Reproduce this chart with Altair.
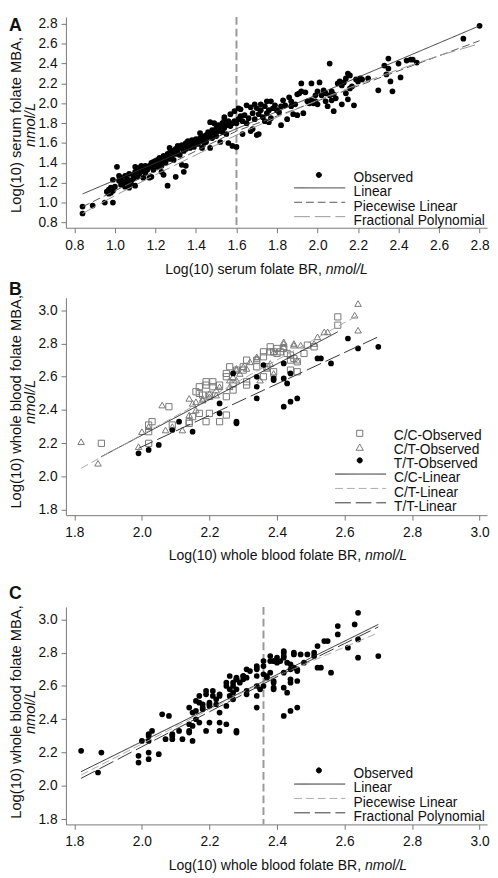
import altair as alt
import pandas as pd

FONT = "Liberation Sans"

# ---------------- Panel A : serum folate (observed points) ----------------
a_obs_low = [
    (0.84, 0.96), (0.84, 0.89), (0.89, 0.97), (0.95, 1.00), (0.99, 1.00),
    (0.96, 1.11), (0.97, 1.09), (0.97, 1.13), (0.98, 1.10), (0.98, 1.15), (0.99, 1.12), (0.99, 1.23), (1.00, 1.16),
    (1.01, 1.36), (1.02, 1.27), (1.02, 1.22), (1.03, 1.18), (1.03, 1.25), (1.04, 1.21), (1.05, 1.16), (1.05, 1.27),
    (1.06, 1.19), (1.06, 1.24), (1.07, 1.15), (1.07, 1.29), (1.08, 1.22), (1.08, 1.18), (1.09, 1.28), (1.09, 1.24),
    (1.10, 1.17), (1.10, 1.31), (1.10, 1.36), (1.11, 1.33), (1.11, 1.26), (1.12, 1.29), (1.12, 1.35), (1.13, 1.31),
    (1.13, 1.37), (1.14, 1.25), (1.14, 1.34), (1.15, 1.37), (1.15, 1.30), (1.16, 1.33), (1.17, 1.37), (1.17, 1.25),
    (1.18, 1.36), (1.18, 1.40), (1.18, 1.26), (1.19, 1.33), (1.19, 1.41), (1.20, 1.38), (1.20, 1.42),
]
a_obs_mid = [
    (1.21, 1.36), (1.21, 1.43), (1.22, 1.39), (1.22, 1.45), (1.23, 1.41), (1.23, 1.37), (1.23, 1.31), (1.24, 1.43),
    (1.24, 1.47), (1.24, 1.28), (1.25, 1.40), (1.25, 1.45), (1.26, 1.17), (1.26, 1.49), (1.27, 1.44), (1.27, 1.50),
    (1.27, 1.55), (1.28, 1.47), (1.28, 1.52), (1.29, 1.43), (1.29, 1.50), (1.30, 1.49), (1.30, 1.54), (1.30, 1.26),
    (1.31, 1.52), (1.31, 1.57), (1.32, 1.48), (1.32, 1.55), (1.33, 1.58), (1.33, 1.38), (1.34, 1.52), (1.34, 1.56),
    (1.34, 1.31), (1.35, 1.60), (1.35, 1.37), (1.35, 1.54), (1.36, 1.58), (1.36, 1.62), (1.37, 1.55), (1.37, 1.60),
    (1.38, 1.58), (1.38, 1.63), (1.39, 1.61), (1.39, 1.56), (1.40, 1.60), (1.40, 1.64), (1.41, 1.59), (1.41, 1.62),
    (1.42, 1.65), (1.42, 1.70), (1.43, 1.62), (1.43, 1.67), (1.43, 1.55), (1.44, 1.60), (1.44, 1.64), (1.45, 1.68),
    (1.45, 1.61), (1.46, 1.66), (1.46, 1.71), (1.47, 1.55), (1.47, 1.69), (1.47, 1.81), (1.48, 1.73), (1.48, 1.65),
    (1.49, 1.80), (1.49, 1.70), (1.50, 1.75), (1.50, 1.67), (1.51, 1.72), (1.51, 1.78), (1.52, 1.61), (1.52, 1.76),
    (1.53, 1.80), (1.53, 1.71), (1.54, 1.83), (1.54, 1.86), (1.54, 1.75), (1.55, 1.78), (1.55, 1.69), (1.56, 1.82),
    (1.56, 1.60), (1.57, 1.77), (1.57, 1.89), (1.58, 1.80), (1.58, 1.57), (1.59, 1.82), (1.59, 1.92), (1.60, 1.56),
    (1.60, 1.80),
]
a_obs_high = [
    (1.61, 1.84), (1.61, 1.95), (1.62, 1.87), (1.62, 1.94), (1.63, 1.82), (1.63, 1.69), (1.64, 1.88), (1.65, 1.80),
    (1.65, 1.98), (1.66, 1.85), (1.67, 1.96), (1.67, 1.72), (1.68, 1.90), (1.68, 1.74), (1.69, 1.84), (1.69, 1.99),
    (1.70, 1.95), (1.70, 1.68), (1.71, 1.89), (1.71, 1.69), (1.72, 1.93), (1.72, 1.99), (1.73, 1.86), (1.74, 1.82),
    (1.74, 1.97), (1.75, 2.02), (1.75, 1.90), (1.76, 1.93), (1.76, 1.81), (1.77, 2.02), (1.77, 1.85), (1.78, 1.95),
    (1.79, 1.98), (1.80, 1.93), (1.81, 1.91), (1.82, 1.78), (1.82, 1.97), (1.83, 2.03), (1.84, 1.98), (1.85, 1.84),
    (1.86, 2.06), (1.87, 1.97), (1.87, 2.02), (1.88, 1.89), (1.89, 1.99), (1.90, 1.88), (1.90, 2.09), (1.91, 2.10),
    (1.92, 2.20), (1.92, 2.12), (1.93, 1.90), (1.94, 2.11), (1.95, 2.02), (1.96, 2.00), (1.97, 2.03), (1.97, 2.20),
    (1.98, 2.00), (1.99, 2.02), (1.99, 2.08), (2.00, 2.12), (2.00, 1.99), (2.01, 2.21), (2.02, 2.08), (2.03, 2.13),
    (2.04, 2.10), (2.04, 2.02), (2.05, 1.97), (2.06, 2.40), (2.06, 2.08), (2.07, 2.12), (2.07, 2.03), (2.08, 2.09),
    (2.08, 1.92), (2.09, 2.05), (2.10, 2.20), (2.11, 2.22), (2.12, 2.18), (2.12, 1.99), (2.13, 2.21), (2.14, 2.25),
    (2.14, 2.10), (2.15, 2.30), (2.15, 2.04), (2.16, 2.28), (2.16, 2.15), (2.17, 2.17), (2.18, 1.98), (2.19, 2.24),
    (2.20, 2.22), (2.21, 2.25), (2.22, 2.24), (2.25, 2.25), (2.30, 2.13), (2.33, 2.38), (2.34, 2.29), (2.35, 2.45),
    (2.35, 2.35), (2.36, 2.22), (2.37, 2.12), (2.40, 2.40), (2.41, 2.26), (2.44, 2.43), (2.46, 2.44), (2.47, 2.44),
    (2.49, 2.41), (2.72, 2.65), (2.80, 2.78),
]

# Panel A fitted curves
a_models = ["Linear", "Piecewise Linear", "Fractional Polynomial"]
a_lin_x, a_lin_y = [0.84, 2.80], [1.087, 2.78]
a_pw_x, a_pw_y = [0.84, 1.60, 2.80], [0.958, 1.72, 2.63]
a_fp_x = [0.84, 1.0, 1.2, 1.4, 1.6, 1.8, 2.0, 2.2, 2.4, 2.6, 2.8]
a_fp_y = [0.89, 1.07, 1.28, 1.48, 1.68, 1.86, 2.03, 2.19, 2.34, 2.48, 2.60]
a_knot = [1.6]

# ---------------- Panel B : whole blood folate by genotype ----------------
cc_obs = [
    (1.88, 2.20), (2.02, 2.27), (2.02, 2.20), (2.02, 2.31), (2.03, 2.33), (2.08, 2.42), (2.09, 2.31), (2.14, 2.32),
    (2.14, 2.33), (2.15, 2.36), (2.16, 2.51), (2.17, 2.54), (2.17, 2.50), (2.17, 2.38), (2.18, 2.49), (2.19, 2.57),
    (2.19, 2.55), (2.19, 2.33), (2.20, 2.38), (2.20, 2.49), (2.21, 2.57), (2.21, 2.54), (2.23, 2.55), (2.23, 2.33),
    (2.25, 2.37), (2.25, 2.62), (2.25, 2.60), (2.25, 2.48), (2.26, 2.66), (2.27, 2.56), (2.27, 2.52), (2.28, 2.64),
    (2.30, 2.64), (2.30, 2.66), (2.31, 2.70), (2.31, 2.57), (2.31, 2.55), (2.34, 2.70), (2.34, 2.66), (2.36, 2.75),
    (2.36, 2.72), (2.36, 2.60), (2.37, 2.66), (2.38, 2.75), (2.38, 2.78), (2.39, 2.63), (2.39, 2.75), (2.40, 2.77),
    (2.40, 2.74), (2.41, 2.75), (2.42, 2.77), (2.43, 2.74), (2.44, 2.73), (2.44, 2.70), (2.44, 2.64), (2.45, 2.71),
    (2.46, 2.69), (2.46, 2.63), (2.48, 2.74), (2.49, 2.79), (2.51, 2.78), (2.58, 2.96), (2.58, 2.91),
]
ct_obs = [
    (1.82, 2.21), (1.87, 2.08), (1.99, 2.18), (2.00, 2.27), (2.02, 2.30), (2.06, 2.43), (2.07, 2.28), (2.09, 2.30),
    (2.12, 2.28), (2.14, 2.37), (2.14, 2.47), (2.15, 2.44), (2.16, 2.40), (2.16, 2.45), (2.18, 2.46), (2.18, 2.47),
    (2.20, 2.48), (2.20, 2.50), (2.22, 2.52), (2.22, 2.49), (2.23, 2.54), (2.26, 2.54), (2.26, 2.58), (2.27, 2.60),
    (2.28, 2.58), (2.28, 2.64), (2.28, 2.65), (2.29, 2.62), (2.30, 2.66), (2.31, 2.65), (2.32, 2.69), (2.34, 2.71),
    (2.34, 2.72), (2.35, 2.58), (2.37, 2.65), (2.38, 2.68), (2.39, 2.75), (2.39, 2.62), (2.42, 2.81), (2.42, 2.78),
    (2.42, 2.80), (2.45, 2.79), (2.45, 2.80), (2.46, 2.70), (2.47, 2.79), (2.51, 2.80), (2.52, 2.84), (2.54, 2.87),
    (2.55, 2.87), (2.63, 2.97), (2.64, 3.04), (2.64, 2.88),
]
tt_obs = [
    (1.99, 2.14), (2.02, 2.16), (2.05, 2.19), (2.09, 2.28), (2.11, 2.33), (2.15, 2.27), (2.23, 2.44), (2.23, 2.38),
    (2.27, 2.62), (2.28, 2.33), (2.28, 2.32), (2.34, 2.60), (2.34, 2.54), (2.34, 2.47), (2.36, 2.67), (2.39, 2.59),
    (2.39, 2.58), (2.42, 2.68), (2.42, 2.59), (2.42, 2.42), (2.43, 2.56), (2.44, 2.62), (2.44, 2.45), (2.46, 2.47),
    (2.52, 2.71), (2.53, 2.71), (2.56, 2.68), (2.61, 2.83), (2.64, 2.77), (2.70, 2.78),
]
b_obs_labels = ["C/C-Observed", "C/T-Observed", "T/T-Observed"]
b_models = ["C/C-Linear", "C/T-Linear", "T/T-Linear"]
cc_fit_x, cc_fit_y = [1.88, 2.58], [2.12, 2.87]
ct_fit_x, ct_fit_y = [1.82, 2.64], [2.05, 2.97]
tt_fit_x, tt_fit_y = [1.99, 2.70], [2.17, 2.84]

# ---------------- Panel C : whole blood folate, all genotypes ----------------
c_models = ["Linear", "Piecewise Linear", "Fractional Polynomial"]
c_lin_x, c_lin_y = [1.82, 2.70], [2.085, 2.97]
c_pw_x, c_pw_y = [1.82, 2.36, 2.70], [2.065, 2.625, 2.92]
c_fp_x = [1.82, 2.0, 2.2, 2.4, 2.6, 2.70]
c_fp_y = [2.045, 2.235, 2.445, 2.655, 2.855, 2.955]
c_knot = [2.36]

a_xticks = [0.8, 1.0, 1.2, 1.4, 1.6, 1.8, 2.0, 2.2, 2.4, 2.6, 2.8]
a_yticks = [0.8, 1.0, 1.2, 1.4, 1.6, 1.8, 2.0, 2.2, 2.4, 2.6, 2.8]
bc_xticks = [1.8, 2.0, 2.2, 2.4, 2.6, 2.8, 3.0]
bc_yticks = [1.8, 2.0, 2.2, 2.4, 2.6, 2.8, 3.0]

# ---------------- helpers ----------------
W = 429
A_H, BC_H = 214.7, 221.5
A_XDOM, A_YDOM = [0.758, 2.837], [0.7466, 2.869]
BC_XDOM, BC_YDOM = [1.775, 3.022], [1.768, 3.075]

# legend symbols (unit = 2px), drawn a little above the label centre
LEG_SIZE = 16
P_CIRCLE = "M-1.3,-1.8A1.3,1.3,0,1,1,1.3,-1.8A1.3,1.3,0,1,1,-1.3,-1.8Z"
P_SQUARE = "M-1.55,-3.15H1.55V-0.05H-1.55Z"
P_TRIANGLE = "M0,-3.15L1.85,0.05H-1.85Z"
P_LINE = "M-13,-2.2H13"

CHANNELS = ["color", "strokeDash", "shape", "fill", "stroke"]


def independent(c):
    kw = {ch: "independent" for ch in CHANNELS}
    return c.resolve_scale(**kw).resolve_legend(**kw)


def pts(pairs):
    return pd.DataFrame(pairs, columns=["x", "y"])


def fits(parts):
    return pd.concat([pd.DataFrame({"x": xs, "y": ys, "model": m}) for xs, ys, m in parts],
                     ignore_index=True)


def axis(ticks, pad):
    return alt.Axis(values=ticks, format=".1f", title=None, grid=False, tickSize=5,
                    tickColor="#777", domainColor="#777", labelPadding=pad, labelFlush=False,
                    labelOverlap=False, labelFont=FONT, labelFontSize=14, labelColor="#111")


def ex(dom, ticks):
    return alt.X("x:Q", scale=alt.Scale(domain=dom, nice=False, zero=False), axis=axis(ticks, 6))


def ey(dom, ticks):
    return alt.Y("y:Q", scale=alt.Scale(domain=dom, nice=False, zero=False), axis=axis(ticks, 4))


def leg(lx, ly, loff, rpad, symbol=None):
    kw = dict(title=None, orient="none", legendX=lx, legendY=ly, padding=0, rowPadding=rpad,
              symbolSize=LEG_SIZE, symbolStrokeWidth=1, labelFont=FONT, labelFontSize=14,
              labelColor="#111", labelOffset=loff, labelLimit=300)
    if symbol:
        kw["symbolType"] = symbol
    return alt.Legend(**kw)


def point_legend(labels, shapes, fills, strokes, lg):
    return alt.Chart(pd.DataFrame({"label": labels})).transform_filter("false").mark_point(
        opacity=1, strokeWidth=1, size=LEG_SIZE).encode(
        shape=alt.Shape("label:N", scale=alt.Scale(domain=labels, range=shapes), legend=lg),
        fill=alt.Fill("label:N", scale=alt.Scale(domain=labels, range=fills), legend=lg),
        stroke=alt.Stroke("label:N", scale=alt.Scale(domain=labels, range=strokes), legend=lg),
    )


def line_layer(df, xd, yd, xt, yt, models, colors, dashes, lg):
    return alt.Chart(df).mark_line(strokeWidth=1).encode(
        x=ex(xd, xt), y=ey(yd, yt),
        color=alt.Color("model:N", scale=alt.Scale(domain=models, range=colors), legend=lg),
        strokeDash=alt.StrokeDash("model:N", scale=alt.Scale(domain=models, range=dashes), legend=lg),
    )


def txt(s, x, y, size=14.3, align="left", baseline="alphabetic", angle=0, style="normal",
        weight="normal"):
    return alt.Chart(pd.DataFrame({"t": [s]})).mark_text(
        align=align, baseline=baseline, angle=angle, fontSize=size, font=FONT,
        fontStyle=style, fontWeight=weight, color="#111").encode(
        x=alt.value(x), y=alt.value(y), text="t:N")


def titles(letter, letter_y, xt1, xsplit, xt_y, yt1, yt_y):
    return [
        txt(letter, -58, letter_y, size=18, weight="bold"),
        txt(xt1, xsplit, xt_y, align="right"),
        txt("nmol/L", xsplit + 4, xt_y, style="italic"),
        txt(yt1, -58, yt_y, size=15, align="center", baseline="top", angle=270),
        txt("nmol/L", -43, yt_y, size=15, align="center", baseline="top", angle=270, style="italic"),
    ]


DOT = 34

# ---------------- Panel A ----------------
a_pts = pts(a_obs_low + a_obs_mid + a_obs_high)
a_fit = fits([(a_lin_x, a_lin_y, a_models[0]), (a_pw_x, a_pw_y, a_models[1]),
              (a_fp_x, a_fp_y, a_models[2])])
panel_a = alt.layer(
    alt.Chart(pd.DataFrame({"x": a_knot})).mark_rule(color="#999", strokeWidth=2, strokeDash=[8, 4]).encode(
        x=ex(A_XDOM, a_xticks)),
    alt.Chart(a_pts).mark_point(filled=True, shape="circle", size=DOT, color="black", opacity=1,
                                strokeWidth=0).encode(x=ex(A_XDOM, a_xticks), y=ey(A_YDOM, a_yticks)),
    line_layer(a_fit, A_XDOM, A_YDOM, a_xticks, a_yticks, a_models, ["#333", "#555", "#999"],
               [[1, 0], [8, 4], [16, 5]], leg(251.5, 171.5, 27.5, 0.65, P_LINE)),
    point_legend(["Observed"], [P_CIRCLE], ["black"], ["black"], leg(250.7, 157.5, 28.3, 0.01)),
    *titles("A", 14, "Log(10) serum folate BR,", 260.7, 262, "Log(10) serum folate MBA,", 110),
).properties(width=W, height=A_H)

# ---------------- Panel B ----------------
b_fit = fits([(cc_fit_x, cc_fit_y, b_models[0]), (ct_fit_x, ct_fit_y, b_models[1]),
              (tt_fit_x, tt_fit_y, b_models[2])])
bx, by = ex(BC_XDOM, bc_xticks), ey(BC_YDOM, bc_yticks)
panel_b = alt.layer(
    alt.Chart(pts(cc_obs)).mark_point(shape="square", filled=False, size=40, color="#777",
                                      strokeWidth=1, opacity=1).encode(x=bx, y=by),
    alt.Chart(pts(ct_obs)).mark_point(shape="triangle-up", filled=False, size=44, color="#777",
                                      strokeWidth=1, opacity=1).encode(x=bx, y=by),
    alt.Chart(pts(tt_obs)).mark_point(filled=True, shape="circle", size=DOT, color="black", opacity=1,
                                      strokeWidth=0).encode(x=bx, y=by),
    line_layer(b_fit, BC_XDOM, BC_YDOM, bc_xticks, bc_yticks, b_models, ["#222", "#aaa", "#333"],
               [[1, 0], [8, 4], [16, 5]], leg(293.2, 177, 27, 0.65, P_LINE)),
    point_legend(b_obs_labels, [P_SQUARE, P_TRIANGLE, P_CIRCLE], ["white", "white", "black"],
                 ["#777", "#777", "black"], leg(292.3, 134.3, 27.7, -2.7)),
    *titles("B", -2.5, "Log(10) whole blood folate BR,", 300.7, 267.5,
            "Log(10) whole blood folate MBA,", 106),
).properties(width=W, height=BC_H)

# ---------------- Panel C ----------------
c_fit = fits([(c_lin_x, c_lin_y, c_models[0]), (c_pw_x, c_pw_y, c_models[1]),
              (c_fp_x, c_fp_y, c_models[2])])
panel_c = alt.layer(
    alt.Chart(pd.DataFrame({"x": c_knot})).mark_rule(color="#999", strokeWidth=2, strokeDash=[8, 4]).encode(
        x=bx),
    alt.Chart(pts(cc_obs + ct_obs + tt_obs)).mark_point(filled=True, shape="circle", size=DOT, color="black",
                                                        opacity=1, strokeWidth=0).encode(x=bx, y=by),
    line_layer(c_fit, BC_XDOM, BC_YDOM, bc_xticks, bc_yticks, c_models, ["#222", "#aaa", "#333"],
               [[1, 0], [8, 4], [16, 5]], leg(251.5, 177.8, 27.5, 0.65, P_LINE)),
    point_legend(["Observed"], [P_CIRCLE], ["black"], ["black"], leg(250.7, 163.1, 28.3, 0.01)),
    *titles("C", -8.4, "Log(10) whole blood folate BR,", 300.7, 267.6,
            "Log(10) whole blood folate MBA,", 107),
).properties(width=W, height=BC_H)

top = independent(alt.vconcat(panel_a, panel_b, spacing=3))
chart = independent(alt.vconcat(top, panel_c, spacing=21))
chart = chart.properties(padding=0).configure_view(stroke=None)

chart.save("out.html", embed_options={"renderer": "svg", "actions": False})
